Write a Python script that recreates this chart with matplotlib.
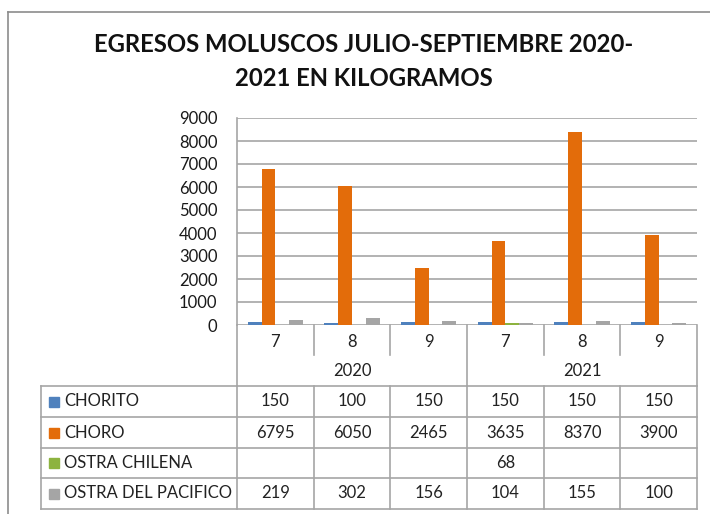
import matplotlib
matplotlib.use("Agg")
import matplotlib.pyplot as plt
import matplotlib.transforms as mtransforms
from matplotlib.lines import Line2D
import numpy as np

plt.rcParams["font.family"] = ["Lato", "DejaVu Sans"]

# data
months = ["7", "8", "9", "7", "8", "9"]
years = ["2020", "2021"]
series_names = ["CHORITO", "CHORO", "OSTRA CHILENA", "OSTRA DEL PACIFICO"]
chorito = [150, 100, 150, 150, 150, 150]
choro = [6795, 6050, 2465, 3635, 8370, 3900]
ostra_chilena = [None, None, None, 68, None, None]
ostra_pacifico = [219, 302, 156, 104, 155, 100]
colors = ["#4f81bd", "#e36c0a", "#8db33f", "#a5a5a5"]

all_series = [chorito, choro, ostra_chilena, ostra_pacifico]

W, H = 710, 514
fig = plt.figure(figsize=(W / 100, H / 100), dpi=100)
fig.patch.set_facecolor("white")

# plot area in pixels: x 237..697, y 118..325
ax_l, ax_r, ax_t, ax_b = 237, 697, 118, 325
ax = fig.add_axes([ax_l / W, 1 - ax_b / H, (ax_r - ax_l) / W, (ax_b - ax_t) / H])

grid_c = "#a6a6a6"
text_c = "#222222"

n = len(months)
x = np.arange(n) + 0.5
bw = 0.18
for k, (vals, c) in enumerate(zip(all_series, colors)):
    v = np.array([np.nan if a is None else a for a in vals], dtype=float)
    ax.bar(x + (k - 1.5) * bw, v, width=bw, color=c, zorder=3)

ax.set_xlim(0, n)
ax.set_ylim(0, 9000)
ax.set_yticks(range(0, 9001, 1000))
ax.set_xticks([])
ax.tick_params(axis="y", length=0, pad=14, labelsize=12, labelcolor="#1a1a1a")
ax.yaxis.grid(True, color=grid_c, lw=1.2)
ax.set_axisbelow(True)
for s in ["top", "right", "bottom"]:
    ax.spines[s].set_visible(False)
ax.spines["left"].set_color(grid_c)
ax.spines["left"].set_linewidth(1.2)

# data table below the axis (x in category units, y in axes fraction)
trans = mtransforms.blended_transform_factory(ax.transData, ax.transAxes)
ph = ax_b - ax_t


def ay(py):
    return (ax_b - py) / ph


def hline(x0, x1, py, lw=1.2):
    ax.plot([x0, x1], [ay(py), ay(py)], color=grid_c, lw=lw,
            transform=trans, clip_on=False)


def vline(xx, py0, py1, lw=1.2):
    ax.plot([xx, xx], [ay(py0), ay(py1)], color=grid_c, lw=lw,
            transform=trans, clip_on=False)


cat_px = (ax_r - ax_l) / n
lab_x0 = -(ax_l - 41) / cat_px
row_lines = [386, 417, 448, 478, 509]

# header block
vline(0, ax_b, row_lines[0])
vline(n, ax_b, row_lines[0])
vline(3, ax_b, row_lines[0])
for xx in [1, 2, 4, 5]:
    vline(xx, ax_b, 355)
for i, m in enumerate(months):
    ax.text(i + 0.5, ay(342), m, ha="center", va="center", fontsize=12,
            color=text_c, transform=trans)
for j, yr in enumerate(years):
    ax.text(j * 3 + 1.5, ay(371), yr, ha="center", va="center",
            fontsize=12, color=text_c, transform=trans)

# table grid
for py in row_lines:
    hline(lab_x0, n, py)
vline(lab_x0, row_lines[0], row_lines[-1])
for xx in range(n + 1):
    vline(xx, row_lines[0], row_lines[-1])

for r, (name, vals, c) in enumerate(zip(series_names, all_series, colors)):
    yc = ay((row_lines[r] + row_lines[r + 1]) / 2)
    ax.plot([lab_x0 + 0.17], [yc], marker="s", ms=7, color=c,
            transform=trans, clip_on=False)
    ax.text(lab_x0 + 0.3, yc, name, ha="left", va="center", fontsize=12,
            color=text_c, transform=trans)
    for i, v in enumerate(vals):
        if v is None:
            continue
        ax.text(i + 0.5, yc, str(v), ha="center", va="center", fontsize=12,
                color=text_c, transform=trans)

# title
fig.text(364 / W, 1 - 45 / H, "EGRESOS MOLUSCOS JULIO-SEPTIEMBRE 2020-",
         ha="center", va="center", fontsize=17.2, fontweight="bold",
         color="#111111")
fig.text(364 / W, 1 - 78 / H, "2021 EN KILOGRAMOS",
         ha="center", va="center", fontsize=17.2, fontweight="bold",
         color="#111111")

# chart frame (cropped at the right and bottom)
fig.add_artist(Line2D([8 / W, 8 / W], [0, 1 - 12 / H], color="#8c8c8c", lw=1.2))
fig.add_artist(Line2D([8 / W, 1], [1 - 12 / H, 1 - 12 / H], color="#8c8c8c", lw=1.2))

fig.savefig("out.png", dpi=100)
